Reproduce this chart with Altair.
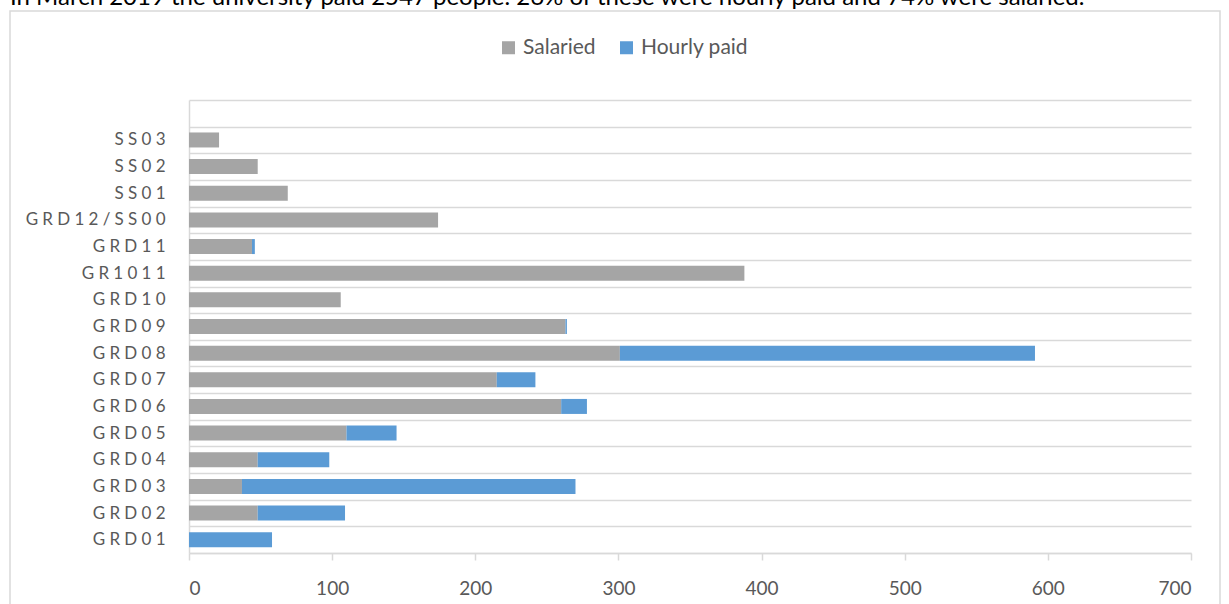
import altair as alt
import pandas as pd

categories = ["SS03", "SS02", "SS01", "GRD12/SS00", "GRD11", "GR1011", "GRD10",
              "GRD09", "GRD08", "GRD07", "GRD06", "GRD05", "GRD04", "GRD03",
              "GRD02", "GRD01"]
salaried = [21, 48, 69, 174, 44, 388, 106, 263, 301, 215, 260, 110, 48, 37, 48, 0]
hourly = [0, 0, 0, 0, 2, 0, 0, 1, 290, 27, 18, 35, 50, 233, 61, 58]
series = ["Salaried", "Hourly paid"]
colors = ["#a5a5a5", "#5b9bd5"]
x_ticks = [0, 100, 200, 300, 400, 500, 600, 700]
headline = "In March 2019 the university paid 2547 people. 26% of these were hourly paid and 74% were salaried."

rows = []
for c, s, h in zip(categories, salaried, hourly):
    rows.append({"grade": c, "type": series[0], "count": s, "ord": 0})
    rows.append({"grade": c, "type": series[1], "count": h, "ord": 1})
df = pd.DataFrame(rows)

FONT = "Lato"
W, H = 1002, 453
PL, PT = 189, 100

y_domain = [" "] + categories

bars = alt.Chart(df).mark_bar(size=15).encode(
    y=alt.Y("grade:N", sort=None,
            scale=alt.Scale(domain=y_domain, paddingInner=0, paddingOuter=0),
            axis=alt.Axis(title=None, grid=True, tickBand="extent", ticks=False,
                          domain=True, domainColor="#d9d9d9", domainWidth=1.5,
                          gridColor="#d9d9d9", gridWidth=1.5,
                          labelFont=FONT, labelFontSize=17, labelColor="#595959",
                          labelPadding=24,
                          labelExpr="join(split(datum.label, ''), '\u2009\u2009')")),
    x=alt.X("count:Q", stack="zero",
            scale=alt.Scale(domain=[0, 700], nice=False),
            axis=alt.Axis(title=None, values=x_ticks, grid=False, domain=True,
                          domainColor="#d9d9d9", domainWidth=1.5,
                          ticks=True, tickSize=7, tickColor="#d9d9d9", tickWidth=1.5,
                          labelFont=FONT, labelFontSize=19, labelColor="#595959",
                          labelPadding=19)),
    color=alt.Color("type:N",
                    scale=alt.Scale(domain=series, range=colors),
                    legend=alt.Legend(title=None, orient="none", direction="horizontal",
                                      legendX=498 - PL, legendY=37 - PT,
                                      symbolType="square", symbolSize=169,
                                      symbolStrokeWidth=0, labelFont=FONT,
                                      labelFontSize=21, labelColor="#595959",
                                      columnPadding=20, labelOffset=4)),
    order=alt.Order("ord:Q"),
)

box = alt.Chart(pd.DataFrame({"a": [0]})).mark_rect(
    fillOpacity=0, stroke="#d9d9d9", strokeWidth=1.5
).encode(
    x=alt.value(10 - PL), x2=alt.value(1220 - PL),
    y=alt.value(11 - PT), y2=alt.value(640 - PT)
)

title = alt.Chart(pd.DataFrame({"t": [headline]})).mark_text(
    align="left", baseline="alphabetic", font=FONT, fontSize=24, color="#000000"
).encode(
    text="t:N", x=alt.value(10 - PL), y=alt.value(5 - PT)
)

chart = alt.layer(box, bars, title).properties(
    width=W, height=H,
    autosize=alt.AutoSizeParams(type="none"),
    padding={"left": PL, "top": PT, "right": 1229 - PL - W, "bottom": 604 - PT - H},
).configure_view(stroke=None)

chart.save("out.html", embed_options={"renderer": "svg", "actions": False})
